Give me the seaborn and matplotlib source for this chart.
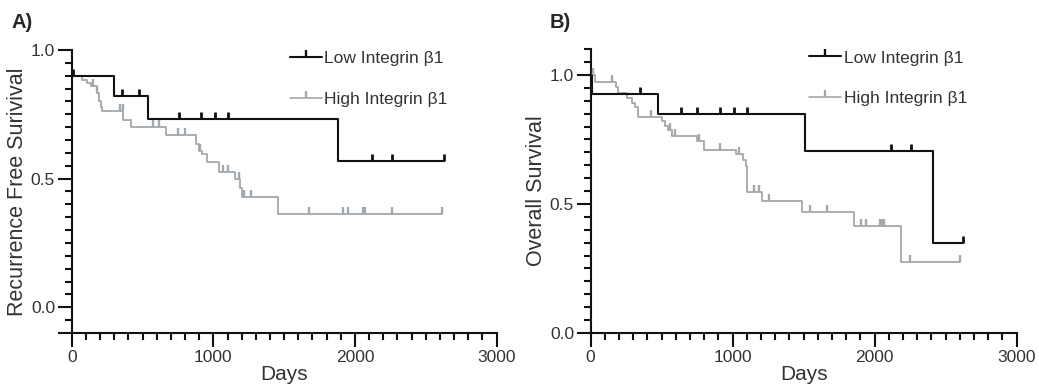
import numpy as np
import pandas as pd
import matplotlib
matplotlib.use('Agg')
import matplotlib.pyplot as plt
import seaborn as sns
from matplotlib.lines import Line2D
from matplotlib.ticker import MultipleLocator, FixedLocator

# ---- data (days, survival fraction) ----
# A) recurrence free survival
a_low_t = [0, 301, 541, 1882, 2628]
a_low_s = [0.90, 0.82, 0.731, 0.567, 0.567]
a_low_cens = [12, 353, 477, 757, 913, 1012, 1101, 2122, 2263, 2628]

a_high_t = [0, 75, 106, 134, 176, 193, 205, 216, 365, 420, 663, 878, 899, 922, 953,
            1042, 1153, 1190, 1200, 1459, 2612]
a_high_s = [0.90, 0.884, 0.873, 0.858, 0.832, 0.80, 0.78, 0.761, 0.729, 0.70, 0.668,
            0.636, 0.606, 0.594, 0.563, 0.524, 0.497, 0.465, 0.427, 0.361, 0.361]
a_high_cens = [153, 176, 341, 360, 576, 618, 753, 800, 906, 1070, 1106, 1180, 1216,
               1266, 1675, 1918, 1948, 2054, 2068, 2259, 2612]

# B) overall survival
b_low_t = [0, 7, 472, 1509, 2413, 2620]
b_low_s = [1.0, 0.925, 0.848, 0.704, 0.349, 0.349]
b_low_cens = [347, 634, 751, 908, 1007, 1101, 2113, 2256, 2620]

b_high_t = [0, 30, 176, 195, 253, 289, 312, 335, 504, 523, 542, 570, 746, 795, 1023,
            1070, 1094, 1100, 1204, 1486, 1854, 2183, 2601]
b_high_s = [1.0, 0.974, 0.954, 0.932, 0.91, 0.893, 0.874, 0.838, 0.822, 0.803, 0.785,
            0.764, 0.745, 0.709, 0.694, 0.671, 0.648, 0.548, 0.511, 0.468, 0.414,
            0.275, 0.275]
b_high_cens = [14, 150, 424, 560, 595, 765, 910, 1045, 1147, 1183, 1258, 1544, 1666,
               1901, 1939, 2035, 2050, 2065, 2249, 2601]

groups = ['Low Integrin \u03b21', 'High Integrin \u03b21']
colors = {groups[0]: '#111111', groups[1]: '#a3a8ac'}

# style
sns.set_style('ticks')
plt.rcParams['font.family'] = ['Liberation Sans', 'DejaVu Sans']
plt.rcParams['axes.linewidth'] = 1.5
plt.rcParams['xtick.major.width'] = 1.5
plt.rcParams['ytick.major.width'] = 1.5
plt.rcParams['xtick.minor.width'] = 1.5
plt.rcParams['ytick.minor.width'] = 1.5


def step_value(t, s, c):
    idx = np.searchsorted(t, c, side='right') - 1
    return np.asarray(s)[idx]


def km_panel(ax, low, high, ylim, ylabel, extra_major):
    frames = []
    for name, (t, s, _) in zip(groups, [low, high]):
        frames.append(pd.DataFrame({'days': t, 'surv': s, 'group': name}))
    df = pd.concat(frames, ignore_index=True)
    # gray first so black sits on top
    for name, lw in [(groups[1], 1.3), (groups[0], 1.5)]:
        sns.lineplot(ax=ax, data=df[df['group'] == name], x='days', y='surv',
                     color=colors[name], estimator=None, sort=False,
                     drawstyle='steps-post', linewidth=lw, legend=False)
    for name, (t, s, cens) in zip(groups, [low, high]):
        ys = step_value(t, s, cens)
        ax.plot(cens, ys, linestyle='none', marker=2, markersize=5,
                markeredgewidth=2.0 if name == groups[0] else 1.7,
                color=colors[name], zorder=4)

    ax.set_xlim(0, 3000)
    ax.set_ylim(*ylim)
    ax.xaxis.set_major_locator(FixedLocator([0, 1000, 2000, 3000]))
    ax.xaxis.set_minor_locator(MultipleLocator(100))
    majors = extra_major + [0.0, 0.5, 1.0]
    ax.yaxis.set_major_locator(FixedLocator(majors))
    ax.set_yticklabels(['' if v < 0 else f'{v:.1f}' for v in majors])
    ax.yaxis.set_minor_locator(MultipleLocator(0.05))
    ax.tick_params(which='major', length=10, labelsize=12.5, color='#111111',
                   labelcolor='#333333', pad=2)
    ax.tick_params(which='minor', length=5, color='#111111')
    for sp in ['top', 'right']:
        ax.spines[sp].set_visible(False)
    for sp in ['left', 'bottom']:
        ax.spines[sp].set_color('#111111')
    ax.set_xlabel('Days', fontsize=15, labelpad=0, color='#333333')
    ax.set_ylabel(ylabel, fontsize=15.5, labelpad=2, color='#333333')

    handles = [Line2D([0], [0], color=colors[g], lw=1.5 if i == 0 else 1.2,
                      marker=2, markersize=5, markeredgewidth=1.7)
               for i, g in enumerate(groups)]
    ax.legend(handles, groups, loc='upper left', bbox_to_anchor=(0.497, 1.02),
              frameon=False, fontsize=12.5, handlelength=1.85, handletextpad=0.12,
              labelspacing=1.45, numpoints=1, borderaxespad=0,
              labelcolor='#333333')


fig = plt.figure(figsize=(10.39, 3.87), dpi=100)
ax1 = fig.add_axes([0.069, 0.1395, 0.409, 0.7315])
ax2 = fig.add_axes([0.5685, 0.1395, 0.41, 0.7335])

km_panel(ax1, (a_low_t, a_low_s, a_low_cens), (a_high_t, a_high_s, a_high_cens),
         (-0.1, 1.0), 'Recurrence Free Surivival', [-0.1])
km_panel(ax2, (b_low_t, b_low_s, b_low_cens), (b_high_t, b_high_s, b_high_cens),
         (0.0, 1.1), 'Overall Survival', [])

fig.text(0.011, 0.942, 'A)', fontsize=14.5, fontweight='bold', va='center')
fig.text(0.529, 0.942, 'B)', fontsize=14.5, fontweight='bold', va='center')

fig.savefig('out.png', dpi=100, facecolor='white')
